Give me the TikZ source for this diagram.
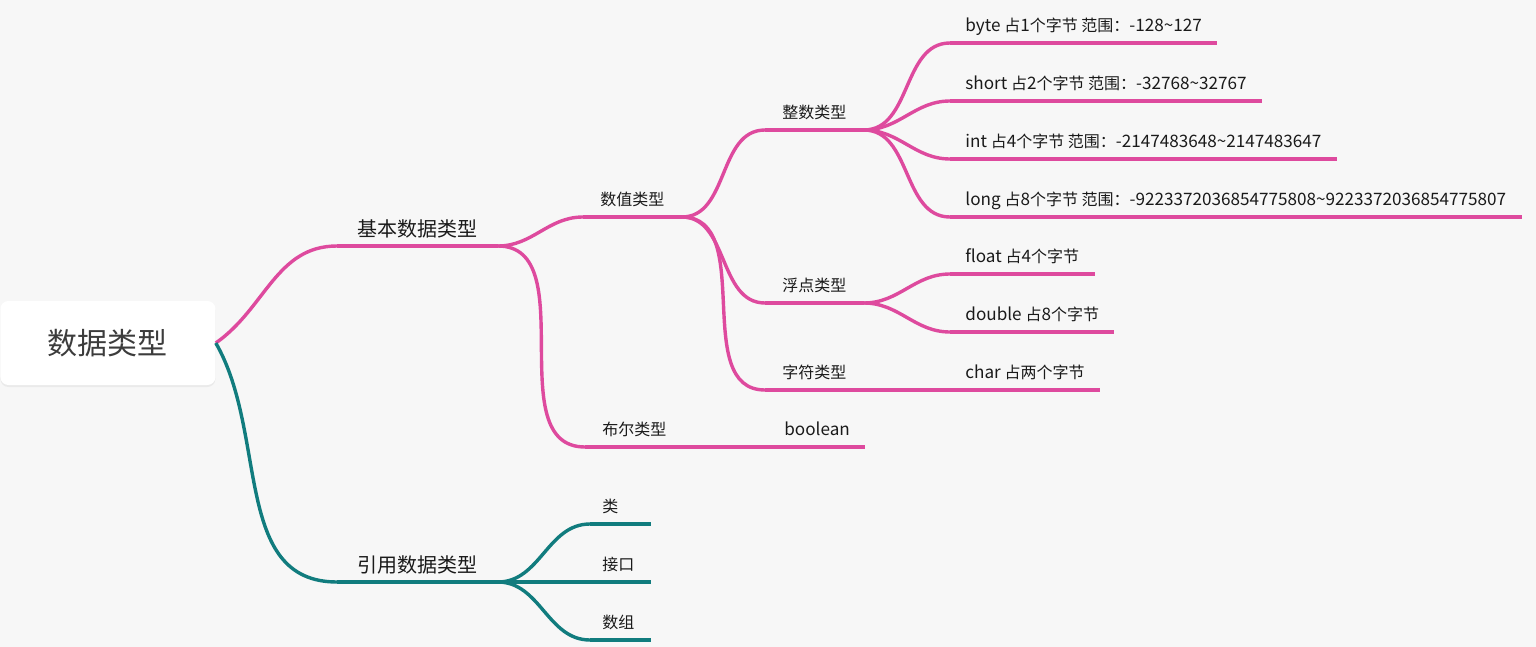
\documentclass[tikz,border=0pt]{standalone}
\usepackage{fontspec}
\setmainfont{Noto Sans CJK SC}
\newfontfamily\latinpart{Noto Sans CJK SC}[Scale=1.07]
\usetikzlibrary{shadows}
\definecolor{canvas}{HTML}{F7F7F7}
\definecolor{rosepink}{HTML}{DE4A9E}
\definecolor{deepteal}{HTML}{117C7E}
\definecolor{inkgray}{HTML}{1A1A1A}
\tikzset{
  rootbox/.style={
    fill=white,
    rounded corners=4pt,
    minimum width=107.5pt,
    minimum height=42pt,
    font=\fontsize{15}{18}\selectfont,
    text=inkgray!85,
    drop shadow={opacity=0.10,shadow xshift=0pt,shadow yshift=-1pt}
  },
  mainlabel/.style={
    anchor=south west,
    inner xsep=10pt,
    inner ysep=4.8pt,
    text depth=0pt,
    font=\fontsize{10}{12}\selectfont,
    text=inkgray
  },
  sublabel/.style={mainlabel,inner xsep=8.5pt,inner ysep=5.5pt,font=\fontsize{8}{10}\selectfont},
  leaflabel/.style={sublabel,inner xsep=7.5pt},
  reflabel/.style={sublabel,inner xsep=6pt,text width=18pt,align=left},
  pinkline/.style={draw=rosepink,line width=1.7pt},
  tealline/.style={draw=deepteal,line width=1.7pt},
  branch/.style={out=0,in=180}
}

\begin{document}
\begin{tikzpicture}[x=0.5pt,y=-0.5pt]
\fill[canvas] (0,0) rectangle (1536,647);
\useasboundingbox (0,0) rectangle (1536,647);
% root
\node[rootbox,anchor=west] (root) at (0,343) {数据类型};
% first level
\node[mainlabel] (basic) at (337,246) {基本数据类型};
\node[mainlabel] (reference) at (337,582) {引用数据类型};
% second level
\node[sublabel] (numeric) at (583,217) {数值类型};
\node[sublabel] (boolean) at (585,447) {布尔类型};
\node[reflabel] (class) at (590,524) {类};
\node[reflabel] (interface) at (590,582) {接口};
\node[reflabel] (array) at (590,640) {数组};
% third level
\node[sublabel] (integer) at (765,130) {整数类型};
\node[sublabel] (floating) at (765,303) {浮点类型};
\node[sublabel] (character) at (765,390) {字符类型};
\node[leaflabel] (boolval) at (769,447) {{\latinpart boolean}};
% leaves
\node[leaflabel] (byte) at (950,43) {{\latinpart byte }占{\latinpart 1}个字节 范围：{\latinpart -128\textasciitilde127}};
\node[leaflabel] (short) at (950,101) {{\latinpart short }占{\latinpart 2}个字节 范围：{\latinpart -32768\textasciitilde32767}};
\node[leaflabel] (int) at (950,159) {{\latinpart int }占{\latinpart 4}个字节 范围：{\latinpart -2147483648\textasciitilde2147483647}};
\node[leaflabel] (long) at (950,217) {{\latinpart long }占{\latinpart 8}个字节 范围：{\latinpart -9223372036854775808\textasciitilde9223372036854775807}};
\node[leaflabel] (float) at (950,274) {{\latinpart float }占{\latinpart 4}个字节};
\node[leaflabel] (double) at (950,332) {{\latinpart double }占{\latinpart 8}个字节};
\node[leaflabel] (char) at (950,390) {{\latinpart char }占两个字节};

% connectors
\draw[pinkline] (root.east) to[out=35,in=180] (basic.south west);
\draw[tealline] (root.east) to[out=-60,in=180] (reference.south west);
\foreach \a/\b in {basic/numeric,basic/boolean,numeric/integer,numeric/floating,
  numeric/character,integer/byte,integer/short,integer/int,integer/long,
  floating/float,floating/double,character/char,boolean/boolval}
  \draw[pinkline] (\a.south east) to[branch] (\b.south west);
\foreach \b in {class,interface,array}
  \draw[tealline] (reference.south east) to[branch] (\b.south west);
% underlines
\foreach \n in {basic,numeric,boolean,integer,floating,character,boolval,
  byte,short,int,long,float,double,char}
  \draw[pinkline] (\n.south west) -- (\n.south east);
\foreach \n in {reference,class,interface,array}
  \draw[tealline] (\n.south west) -- (\n.south east);
\end{tikzpicture}
\end{document}
